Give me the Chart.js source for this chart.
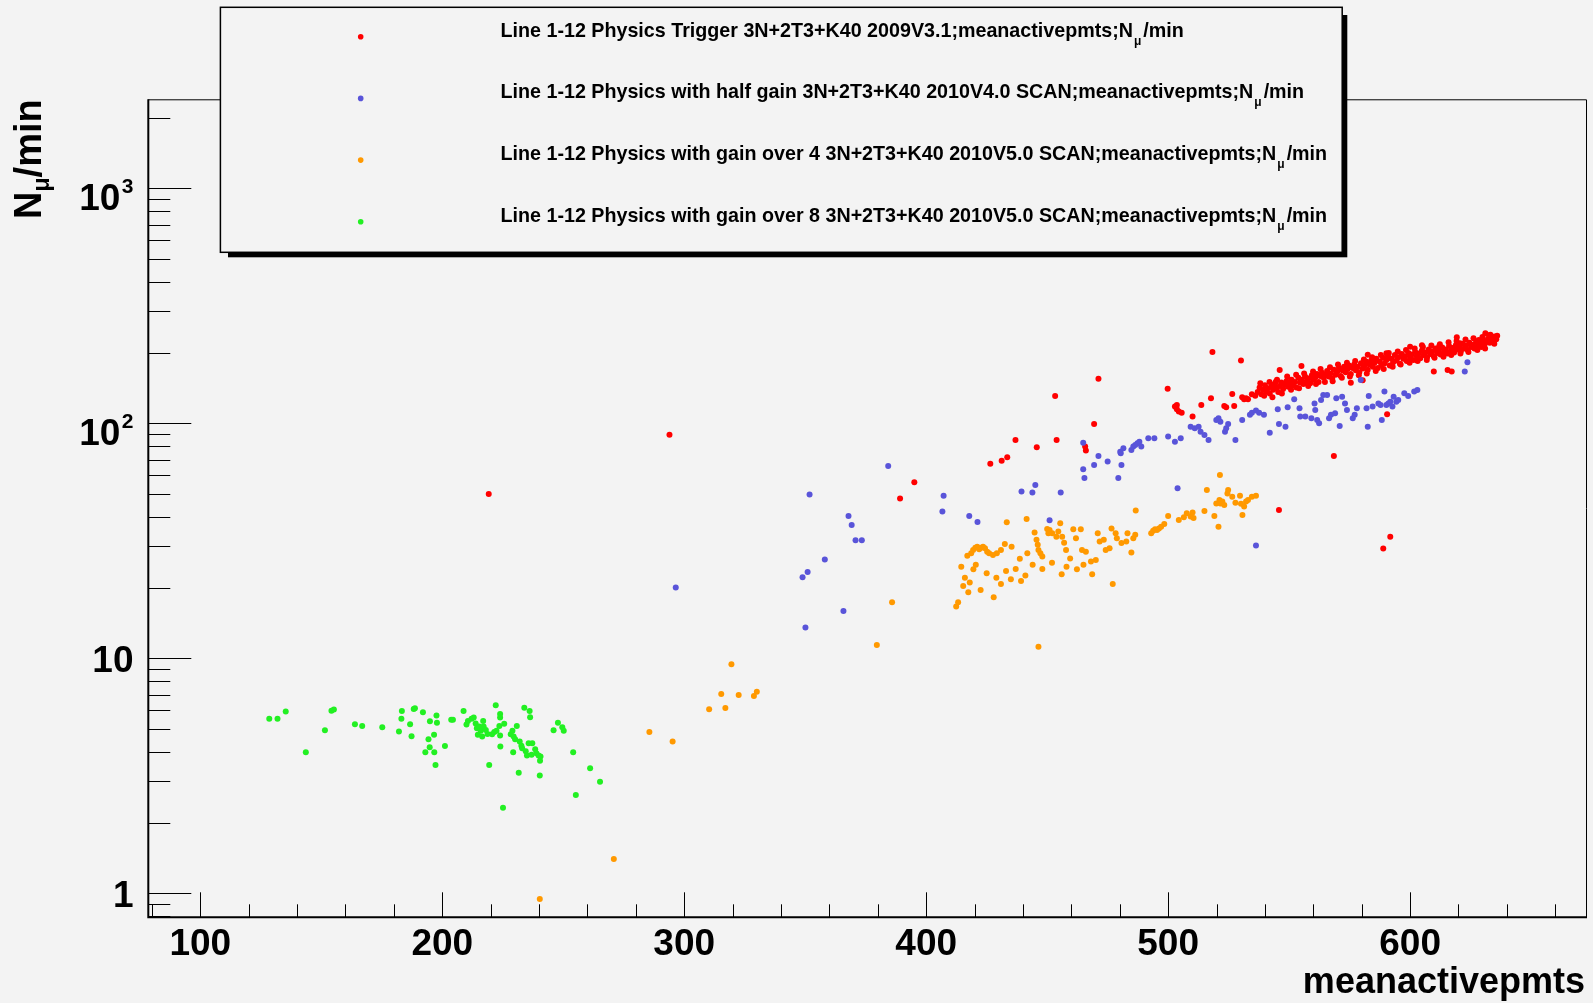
<!DOCTYPE html>
<html><head><meta charset="utf-8">
<script src="https://cdn.jsdelivr.net/npm/chart.js@4.4.1/dist/chart.umd.min.js"></script>
<style>html,body{margin:0;padding:0;background:#f3f3f3;overflow:hidden}canvas{display:block}</style>
</head><body>
<canvas id="c" width="1593" height="1003"></canvas>
<script>
// ---- axis ranges and tick labels ----
const xRange = [78.5, 672.7];
const yRange = [0.79, 2391];
const xTickValues = [100, 200, 300, 400, 500, 600];
const xTickLabels = ['100', '200', '300', '400', '500', '600'];
const xMinorStep = 20;
const yTickValues = [1, 10, 100, 1000];
const yTickBase = ['1', '10', '10', '10'];
const yTickSup = ['', '', '2', '3'];
const xTitle = 'meanactivepmts';
const yTitle = ['N', 'μ', '/min'];

// ---- legend ----
const legendPrefix = [
  'Line 1-12 Physics Trigger 3N+2T3+K40 2009V3.1;meanactivepmts;N',
  'Line 1-12 Physics with half gain 3N+2T3+K40 2010V4.0 SCAN;meanactivepmts;N',
  'Line 1-12 Physics with gain over 4 3N+2T3+K40 2010V5.0 SCAN;meanactivepmts;N',
  'Line 1-12 Physics with gain over 8 3N+2T3+K40 2010V5.0 SCAN;meanactivepmts;N'
];
const legendSub = 'μ';
const legendSuffix = '/min';
const seriesColors = ['#ff0000', '#5954d9', '#ff9900', '#22f022'];

// ---- data: [meanactivepmts, Nmu/min] ----
const redPoints = [
[219.2,50.0],[293.9,89.3],[389.2,47.9],[395.1,56.1],[426.5,67.3],[431.2,69.3],[433.5,71.6],[436.9,84.9],[445.7,79.0],[453.9,84.9],[453.3,130.7],[465.7,79.6],[466.0,76.6],[469.4,99.3],[471.2,154.8],[499.8,140.4],[502.8,117.7],[503.6,114.7],[504.4,112.2],[505.6,110.9],[503.6,119.6],[510.1,106.8],[513.7,119.6],[517.7,127.7],[518.3,201],[523.2,118.5],[524.0,116.9],[526.5,133.1],[527.3,118.5],[530.1,184.8],[530.6,129.0],[531.4,126.4],[532.2,127.7],[533.0,126.4],[534.6,133.0],[536.0,131.0],[544.5,150.3],[545.8,42.7],[546.1,168.6],[555.1,175.4],[575.5,148.9],[580.4,152.3],[582.5,195.8],[568.5,72.6],[590.5,109.2],[591.8,32.9],[588.9,29.3],[590.2,198.6],[600.0,211.8],[604.9,214.9],[609.8,165.9],[615.5,168.6],[617.2,165.9],[619.3,232.5],[631.1,241.5],[632.7,237.0],
[537.0,136],[537.8,142],[538.5,133],[539.2,139],[540.0,145],[540.6,137],[541.3,141],[542.0,134],[542.7,143],[543.4,139],[544.0,147],[544.8,141],[545.5,136],[546.1,144],[546.8,149],[547.5,140],[548.2,146],[548.9,151],[549.6,143],[550.3,148],[551.0,153],[551.7,145],[552.4,150],[553.0,142],[553.8,156],[554.5,149],[555.2,153],[555.9,147],[556.6,158],[557.3,151],[558.0,155],[558.7,148],[559.4,160],[560.1,153],[560.8,157],[561.5,162],[562.2,150],[562.9,159],[563.6,164],[564.3,156],[565.0,161],[565.7,167],[566.4,158],[567.1,163],[567.8,155],[568.5,169],[569.2,161],[569.9,166],[570.6,172],[571.3,159],[572.0,168],[572.7,174],[573.4,165],[574.1,170],[574.8,176],[575.5,162],[576.2,172],[576.9,178],[577.6,168],[578.3,174],[579.0,165],[579.7,180],[580.4,171],[581.1,176],[581.8,183],[582.5,169],[583.2,178],[583.9,185],[584.6,174],[585.3,181],[586.0,188],[586.7,172],[587.4,183],[588.1,177],[588.8,190],[589.5,180],[590.2,186],[590.9,193],[591.6,176],[592.3,188],[593.0,182],[593.7,195],[594.4,185],[595.1,191],[595.8,179],[596.5,197],[597.2,188],[597.9,193],[598.6,184],[599.3,199],[600.0,190],[600.7,196],[601.4,186],[602.1,201],[602.8,193],[603.5,198],[604.2,189],[604.9,204],[605.6,195],[606.3,200],[607.0,191],[607.7,206],[608.4,197],[609.1,202],[609.8,193],[610.5,208],[611.2,199],[611.9,204],[612.6,196],[613.3,210],[614.0,201],[614.7,206],[615.4,198],[616.1,213],[616.8,203],[617.5,209],[618.2,200],[618.9,215],[619.6,206],[620.3,211],[621.0,203],[621.7,218],[622.4,208],[623.1,214],[623.8,205],[624.5,220],[625.2,211],[625.9,216],[626.6,208],[627.3,223],[628.0,214],[628.7,219],[629.4,211],[630.1,226],[630.8,217],[631.5,222],[632.2,229],[632.9,220],[633.6,232],[634.3,225],[635.0,234],[635.6,228],
[538.1,148],[539.7,131],[541.9,150],[543.1,129],[545.0,153],[547.0,134],[549.2,158],[550.8,139],[552.9,161],[554.1,141],[556.2,163],[557.9,144],[559.9,166],[561.1,147],[563.0,170],[564.8,150],[566.9,173],[568.0,151],[570.2,178],[571.8,156],[573.9,181],[575.1,158],[577.3,184],[578.8,160],[580.9,187],[582.1,163],[584.3,191],[585.8,167],[587.9,195],[589.1,170],[591.2,199],[592.8,174],[594.9,202],[596.1,178],[598.3,205],[599.8,181],[601.9,208],[603.1,184],[605.3,211],[606.9,186],[608.8,214],[610.1,190],[612.3,217],[613.8,192],[615.9,221],[617.0,195],[619.2,224],[620.8,198],[622.9,227],[624.1,201],[626.2,230],[627.8,205],[629.9,233],[631.0,208],[633.2,238],[634.8,218],[636.0,236],[628.4,226],[620.6,219],[612.0,212]
];
const bluePoints = [
[296.5,20.0],[348.9,22.1],[351.0,23.3],[350.1,13.5],[351.8,49.7],[358.1,26.3],[365.8,15.9],[367.9,40.3],[369.2,36.9],[370.8,31.8],[373.4,31.8],[384.3,65.8],
[407.2,49.2],[406.7,42.1],[417.8,40.3],[421.2,38.0],[439.4,51.2],[443.9,50.7],[445.1,54.6],[451.0,38.7],[455.6,50.7],[464.9,63.7],[465.4,58.5],[464.9,82.7],[469.4,66.5],[471.2,72.6],[475.0,68.7],[479.4,58.5],[480.4,74.5],[480.7,66.5],[480.2,75.7],[481.5,78.3],[484.8,77.0],[485.6,79.6],[486.4,80.9],[487.3,82.2],[488.1,83.5],[488.9,79.6],[491.8,86.3],[494.3,86.3],[500.0,87.8],[502.8,83.5],[505.2,86.3],[503.9,52.9],[509.3,96.7],[511.0,95.2],[512.6,96.7],[513.4,92.1],[515.0,89.2],[516.7,84.9],[519.9,103.3],[520.8,105.0],[521.6,101.6],[523.5,92.1],[524.0,95.2],[524.8,99.3],[527.8,84.9],[530.6,103.3],[533.8,108.6],[534.6,110.9],[536.3,113.2],[537.6,110.9],[539.6,108.6],[542.0,91.2],[545.3,114.7],[545.8,99.3],[548.5,96.7],[549.4,116.9],[552.1,126.4],[554.3,115.8],[554.6,106.8],[556.7,106.8],[559.2,105.0],[560.5,121.5],[560.8,113.9],[561.6,103.3],[562.4,99.9],[563.2,125.7],[564.1,132.0],[565.7,132.0],[566.5,105.0],[567.3,108.6],[569.0,110.3],[569.5,127.7],[570.9,97.3],[571.9,129.8],[573.1,121.5],[573.9,113.9],[576.3,105.0],[577.1,108.6],[578.0,115.8],[579.6,152.9],[582.0,115.8],[582.5,96.7],[582.9,130.7],[584.5,117.7],[586.9,121.5],[587.8,119.6],[588.3,103.3],[589.4,136.4],[590.2,119.6],[591.0,121.5],[591.8,123.5],[592.7,117.7],[593.2,129.8],[594.3,123.5],[595.1,125.7],[597.6,134.2],[599.2,130.7],[601.7,136.4],[603.0,138.6],[622.6,165.9],[623.7,181.7],[536.3,30.2]
];
const orangePoints = [
[240.3,0.946],[270.9,1.40],[285.6,4.86],[295.2,4.42],[310.3,6.07],[315.3,7.05],[317.0,6.14],[319.5,9.44],[322.5,6.98],[328.8,6.9],[330.0,7.2],[379.6,11.4],[385.9,17.3],[412.4,16.6],[413.2,17.3],[415.3,20.3],[417.4,19.1],[419.5,23.9],[427.9,18.2],[430.9,20.7],[435.0,21.7],[439.2,21.3],[446.4,11.2],[456.0,22.8],[462.3,23.9],[468.6,22.8],[477.1,20.7],
[414.5,24.5],[416.0,22.0],[418.0,21.0],[420.5,25.0],[422.5,19.5],[425.0,23.0],[429.0,22.0],[433.0,23.5],[437.0,24.0],[441.0,22.5],[444.0,25.0],[448.0,24.0],[452.0,25.5],[458.0,24.5],[465.0,25.0],
[417.0,27.3],[418.6,28.0],[419.4,28.9],[420.3,29.5],[421.1,29.8],[421.9,29.1],[422.7,29.5],[423.5,29.8],[424.3,29.4],[425.2,28.4],[426.0,28.0],[427.6,27.5],[429.2,28.0],[430.9,28.9],[432.5,30.6],[433.3,37.9],[435.3,29.8],[438.7,26.5],[441.5,39.1],[441.8,28.0],[444.8,34.3],[445.6,31.9],[446.1,30.4],[446.4,28.9],[447.2,28.0],[448.0,27.1],[450.0,35.5],[450.5,34.0],[451.0,35.1],[452.1,34.0],[453.8,32.9],[454.6,34.6],[455.4,37.5],[456.2,32.9],[457.0,31.0],[457.8,28.9],[459.5,26.6],[460.8,35.4],[461.9,32.4],[463.9,35.4],[464.4,28.9],[466.0,28.4],[468.1,25.8],[470.1,26.2],[470.9,34.0],[471.7,31.4],[473.4,31.9],[474.2,28.9],[475.8,29.4],[476.6,35.7],[478.3,34.0],[478.8,32.4],[480.7,30.9],[482.7,31.4],[483.2,34.0],[484.8,28.2],[485.6,32.4],[486.4,33.5],[486.6,42.5],[493.0,34.0],[493.8,34.9],[494.6,35.4],[495.4,35.1],[496.2,35.7],[497.1,36.3],[498.4,37.3],[500.0,40.3],[504.4,38.8],[506.5,39.8],[507.7,41.4],[509.3,40.1],[510.1,41.7],[510.5,39.5],[515.0,42.3],[516.0,52.0],[519.1,40.3],[519.9,45.6],[520.8,36.3],[521.2,47.2],[521.4,60.2],[521.6,45.6],[522.4,46.4],[523.2,44.9],[524.5,50.3],[524.8,52.0],[526.5,48.7],[527.8,45.9],[529.7,49.1],[530.1,45.4],[530.7,40.7],[531.4,44.2],[532.2,46.4],[533.0,47.2],[534.6,48.7],[536.3,49.1]
];
const greenPoints = [
[128.5,5.53],[131.9,5.53],[135.3,5.94],[143.6,3.98],[151.5,4.94],[154.2,5.98],[155.2,6.05],[163.9,5.24],[166.9,5.15],[175.2,5.08],[182.1,4.88],[183.1,5.53],[183.3,5.97],[186.7,5.24],[187.3,4.66],[188.2,6.08],[188.7,6.12],[192.0,5.89],[193.0,3.98],[194.3,4.52],[194.8,4.18],[194.9,5.39],[196.6,4.73],[196.7,3.98],[197.2,3.51],[197.6,5.70],[197.8,5.31],[201.1,4.23],[203.7,5.47],[204.4,5.47],[208.8,5.97],[210.0,5.22],[210.6,5.41],[212.1,5.53],[213.0,5.60],[213.8,5.28],[214.3,5.04],[214.7,4.72],[215.3,5.12],[215.9,4.92],[216.5,4.64],[216.9,5.41],[217.1,5.12],[218.0,4.95],[218.7,4.76],[219.4,3.51],[220.6,4.75],[221.5,4.86],[222.1,6.31],[222.4,4.91],[223.6,5.15],[223.9,5.79],[223.9,5.60],[223.9,4.69],[224.0,4.21],[225.1,2.31],[225.6,5.26],[228.3,4.75],[229.0,4.92],[229.3,3.98],[229.5,4.64],[230.1,4.52],[230.8,5.15],[231.6,3.26],[232.0,4.42],[232.7,4.24],[233.0,4.14],[233.9,6.15],[234.5,4.02],[235.0,3.86],[235.7,4.35],[236.1,5.97],[236.3,5.61],[236.9,3.88],[237.2,4.35],[238.4,4.10],[238.9,3.94],[239.8,3.86],[240.3,3.17],[240.4,3.66],[240.6,3.82],[246.0,4.94],[247.8,5.32],[249.6,5.08],[250.2,4.92],[254.1,3.98],[255.2,2.62],[261.1,3.40],[265.2,2.98]
];
const seriesPoints = [redPoints, bluePoints, orangePoints, greenPoints];

const BG = '#f3f3f3';
const FONT = '"Liberation Sans", Arial, Helvetica, sans-serif';

const rootPlugin = {
  id: 'rootStyle',
  beforeDraw(chart) {
    const c = chart.ctx;
    c.save(); c.fillStyle = BG; c.fillRect(0, 0, chart.width, chart.height); c.restore();
  },
  beforeDatasetsDraw(chart) {
    const c = chart.ctx, a = chart.chartArea, xs = chart.scales.x, ys = chart.scales.y;
    c.save();
    c.strokeStyle = '#000';
    c.lineWidth = 1;
    c.beginPath();
    c.moveTo(a.left, a.top + 0.5); c.lineTo(a.right + 0.5, a.top + 0.5); c.lineTo(a.right + 0.5, a.bottom);
    c.stroke();
    c.lineWidth = 2;
    c.beginPath();
    c.moveTo(a.left, a.bottom); c.lineTo(a.right + 1, a.bottom);
    c.moveTo(a.left, a.top); c.lineTo(a.left, a.bottom + 1);
    c.stroke();
    c.lineWidth = 1;
    c.beginPath();
    for (let v = Math.ceil(xRange[0] / xMinorStep) * xMinorStep; v <= xRange[1]; v += xMinorStep) {
      const px = Math.round(xs.getPixelForValue(v)) + 0.5;
      const len = xTickValues.includes(v) ? 25 : 13;
      c.moveTo(px, a.bottom); c.lineTo(px, a.bottom - len);
    }
    for (let d = -1; d <= 3; d++) {
      for (let m = 1; m <= 9; m++) {
        const v = m * Math.pow(10, d);
        if (v < yRange[0] || v > yRange[1]) continue;
        const py = Math.round(ys.getPixelForValue(v)) + 0.5;
        const len = m === 1 ? 43 : 22;
        c.moveTo(a.left, py); c.lineTo(a.left + len, py);
      }
    }
    c.stroke();
    c.restore();
  },
  afterDraw(chart) {
    const c = chart.ctx, a = chart.chartArea, xs = chart.scales.x, ys = chart.scales.y;
    c.save();
    c.fillStyle = '#000';
    c.font = 'bold 37px ' + FONT;
    c.textAlign = 'center'; c.textBaseline = 'alphabetic';
    xTickValues.forEach((v, i) => c.fillText(xTickLabels[i], xs.getPixelForValue(v), 954.5));
    const lx = 133.5;
    yTickValues.forEach((v, i) => {
      const py = ys.getPixelForValue(v);
      c.textAlign = 'right';
      if (!yTickSup[i]) {
        c.font = 'bold 37px ' + FONT;
        c.fillText(yTickBase[i], lx, py + 13.3);
      } else {
        c.font = 'bold 21px ' + FONT;
        const sw = c.measureText(yTickSup[i]).width;
        c.fillText(yTickSup[i], lx, py + 5);
        c.font = 'bold 37px ' + FONT;
        c.fillText(yTickBase[i], lx - sw - 1.5, py + 21.7);
      }
    });
    c.font = 'bold 36px ' + FONT;
    c.textAlign = 'right';
    c.fillText(xTitle, 1585, 993);
    c.textAlign = 'left';
    const bigF = 'bold 38px ' + FONT, subF = 'bold 23px ' + FONT;
    c.font = bigF; const wN = c.measureText(yTitle[0]).width; const wR = c.measureText(yTitle[2]).width;
    c.font = subF; const wM = c.measureText(yTitle[1]).width;
    const tot = wN + wM + wR;
    c.save();
    c.translate(41, a.top + tot);
    c.rotate(-Math.PI / 2);
    c.font = bigF; c.fillText(yTitle[0], 0, 0);
    c.font = subF; c.fillText(yTitle[1], wN, 8);
    c.font = bigF; c.fillText(yTitle[2], wN + wM, 0);
    c.restore();
    const L = 220.4, T = 7.3, R = 1342.2, B = 252.3;
    c.fillStyle = '#000';
    c.fillRect(228, 15, 1347.3 - 228, 257.3 - 15);
    c.fillStyle = BG;
    c.fillRect(L, T, R - L, B - T);
    c.strokeStyle = '#000'; c.lineWidth = 1.5;
    c.strokeRect(L, T, R - L, B - T);
    const f = 'bold 19.7px ' + FONT, fs = 'bold 12px ' + FONT;
    legendPrefix.forEach((txt, i) => {
      const y = 36.7 + i * 61.7;
      c.fillStyle = seriesColors[i];
      c.beginPath(); c.arc(360.7, y, 2.8, 0, Math.PI * 2); c.fill();
      c.fillStyle = '#000';
      c.textAlign = 'left';
      c.font = f; c.fillText(txt, 500.5, y);
      const w1 = c.measureText(txt).width;
      c.font = fs; c.fillText(legendSub, 500.5 + w1 + 1, y + 8);
      const w2 = c.measureText(legendSub).width;
      c.font = f; c.fillText(legendSuffix, 500.5 + w1 + w2 + 3, y);
    });
    c.restore();
  }
};

const datasets = seriesPoints.map((pts, i) => ({
  label: legendPrefix[i],
  data: pts.map(p => ({ x: p[0], y: p[1] })),
  backgroundColor: seriesColors[i],
  borderWidth: 0,
  pointRadius: 3,
  pointHoverRadius: 3,
  pointStyle: 'circle',
  order: 4 - i
}));

new Chart(document.getElementById('c'), {
  type: 'scatter',
  data: { datasets },
  options: {
    responsive: false,
    animation: false,
    devicePixelRatio: 1,
    events: [],
    layout: { padding: { left: 148.3, right: 7, top: 99.3, bottom: 85.7 } },
    plugins: { legend: { display: false }, tooltip: { enabled: false } },
    scales: {
      x: { type: 'linear', min: xRange[0], max: xRange[1], grid: { display: false, drawTicks: false }, border: { display: false }, ticks: { display: false } },
      y: { type: 'logarithmic', min: yRange[0], max: yRange[1], grid: { display: false, drawTicks: false }, border: { display: false }, ticks: { display: false } }
    }
  },
  plugins: [rootPlugin]
});
</script>
</body></html>
